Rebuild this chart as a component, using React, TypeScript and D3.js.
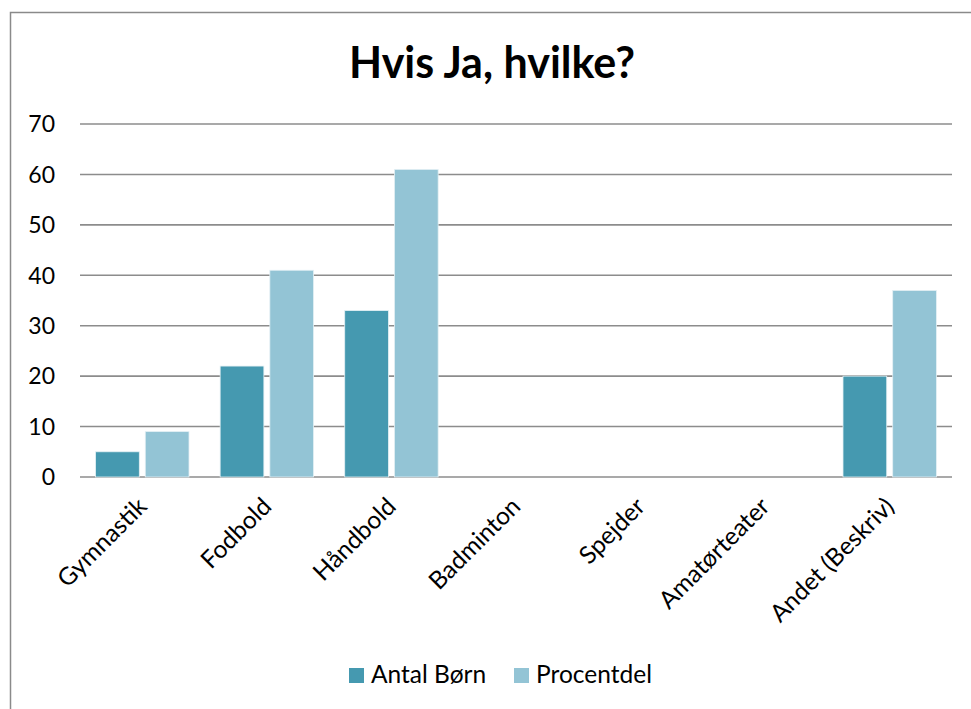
import * as d3 from 'd3';

const categories = ['Gymnastik', 'Fodbold', 'Håndbold', 'Badminton', 'Spejder', 'Amatørteater', 'Andet (Beskriv)'];
const antalBorn = [5, 22, 33, 0, 0, 0, 20];
const procentdel = [9, 41, 61, 0, 0, 0, 37];
const seriesNames = ['Antal Børn', 'Procentdel'];
const seriesColors = ['#4599B0', '#93C4D5'];
const yTicks = [0, 10, 20, 30, 40, 50, 60, 70];

const W = 971;
const H = 709;
const FONT = 'Lato, "Open Sans", sans-serif';

export default function App() {
  const margin = { top: 124, right: 19, bottom: 232, left: 80 };
  const innerW = W - margin.left - margin.right;
  const innerH = H - margin.top - margin.bottom;

  const x0 = d3.scaleBand<string>().domain(categories).range([0, innerW]).paddingInner(0.25).paddingOuter(0.125);
  const x1 = d3.scaleBand<string>().domain(seriesNames).range([0, x0.bandwidth()]).paddingInner(0.12);
  const y = d3.scaleLinear().domain([0, 70]).range([innerH, 0]);

  const series = [antalBorn, procentdel];

  return (
    <svg width={W} height={H} style={{ position: 'absolute', left: 0, top: 0, background: '#fff' }}>
      {/* outer frame */}
      <rect x={10.5} y={12.5} width={W} height={H} fill="none" stroke="#8a8a8a" strokeWidth={1.5} />

      <text x={492} y={78} textAnchor="middle" fontFamily={FONT} fontWeight="bold" fontSize={43} fill="#000">
        Hvis Ja, hvilke?
      </text>

      <g transform={`translate(${margin.left},${margin.top})`}>
        {yTicks.map(t => (
          <g key={t}>
            <line x1={0} x2={innerW} y1={y(t)} y2={y(t)} stroke="#8c8c8c" strokeWidth={1.6} />
            <text x={-25} y={y(t)} dy="0.36em" textAnchor="end" fontFamily={FONT} fontSize={23} fill="#000">
              {t}
            </text>
          </g>
        ))}

        {categories.map((c, i) => (
          <g key={c} transform={`translate(${x0(c)},0)`}>
            {series.map((vals, s) => (
              vals[i] > 0 ? (
                <rect
                  key={s}
                  x={x1(seriesNames[s])}
                  y={y(vals[i])}
                  width={x1.bandwidth()}
                  height={innerH - y(vals[i])}
                  fill={seriesColors[s]}
                  stroke="#e4f0f4"
                  strokeWidth={0.8}
                />
              ) : null
            ))}
          </g>
        ))}

        {categories.map(c => {
          const cx = (x0(c) ?? 0) + x0.bandwidth() / 2 + 6;
          return (
            <text
              key={c}
              transform={`translate(${cx},${innerH + 31}) rotate(-45)`}
              textAnchor="end"
              fontFamily={FONT}
              fontSize={24.5}
              fill="#000"
            >
              {c}
            </text>
          );
        })}
      </g>

      {/* legend */}
      <g transform="translate(349,668)">
        <rect x={0} y={0} width={15} height={15} fill={seriesColors[0]} />
        <text x={22} y={15} fontFamily={FONT} fontSize={24.5} fill="#000">{seriesNames[0]}</text>
        <rect x={165} y={0} width={15} height={15} fill={seriesColors[1]} />
        <text x={187} y={15} fontFamily={FONT} fontSize={24.5} fill="#000">{seriesNames[1]}</text>
      </g>
    </svg>
  );
}
